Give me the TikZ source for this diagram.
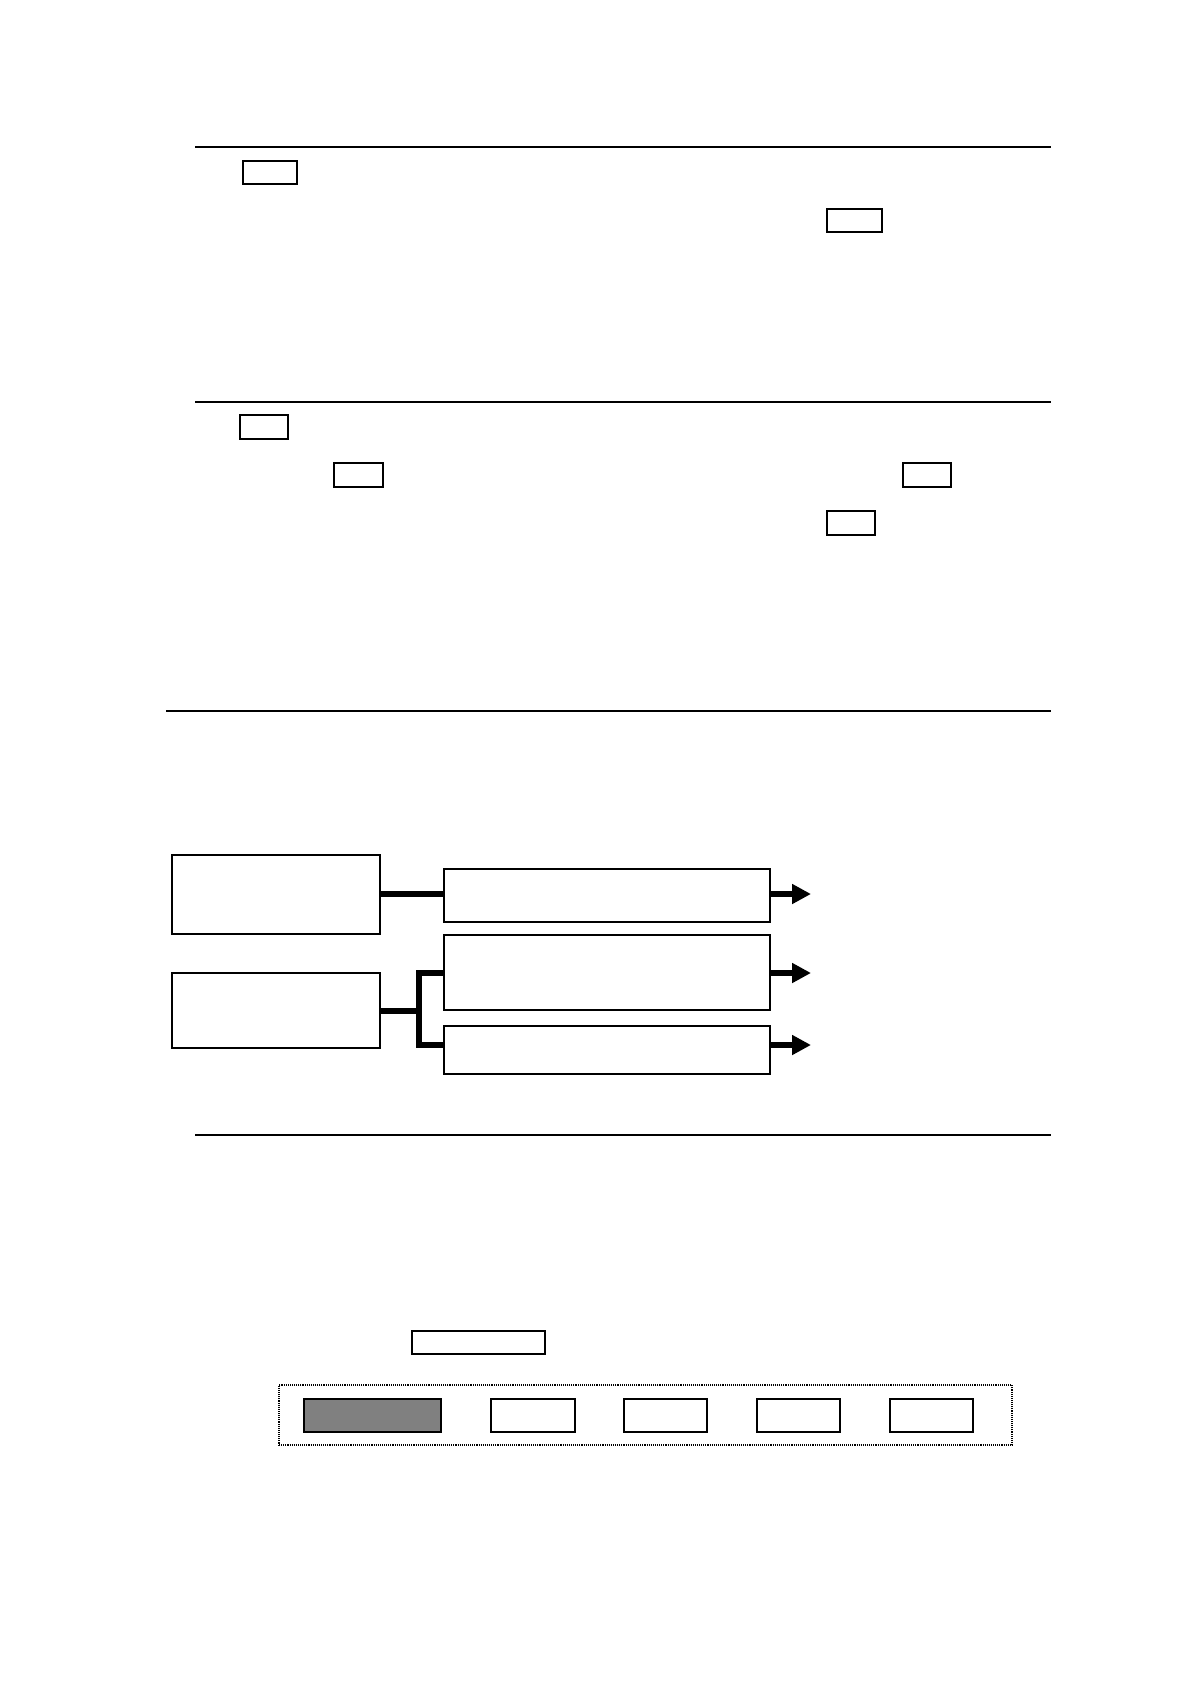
\documentclass[tikz,border=0pt]{standalone}
\usetikzlibrary{arrows.meta}
\begin{document}
\begin{tikzpicture}[x=1pt,y=-1pt,
  bx/.style={draw,line width=1.1pt,inner sep=0pt,outer sep=0pt,anchor=north west},
  flow/.style={draw,line width=1.6pt,inner sep=0pt,outer sep=0pt,anchor=north west},
  conn/.style={line width=6pt},
  arr/.style={line width=6pt,-{Triangle[length=19pt,width=19pt]}},
  rule/.style={line width=1.2pt},
  thickrule/.style={line width=2.8pt}]
\useasboundingbox[fill=white] (0,0) rectangle (1191,1684);
% rules
\coordinate (r1a) at (195,147); \coordinate (r1b) at (1051,147);
\coordinate (r2a) at (195,402); \coordinate (r2b) at (1051,402);
\coordinate (r3a) at (166,711); \coordinate (r3b) at (1051,711);
\coordinate (r4a) at (195,1135); \coordinate (r4b) at (1051,1135);
\draw[thickrule] (r1a) -- (r1b);
\draw[rule] (r2a) -- (r2b);
\draw[thickrule] (r3a) -- (r3b);
\draw[rule] (r4a) -- (r4b);
% small boxes
\node[bx,minimum width=54pt,minimum height=23pt] (sA) at (243,161) {};
\node[bx,minimum width=55pt,minimum height=23pt] (sB) at (827,209) {};
\node[bx,minimum width=48pt,minimum height=24pt] (sC) at (240,415) {};
\node[bx,minimum width=49pt,minimum height=24pt] (sD) at (334,463) {};
\node[bx,minimum width=48pt,minimum height=24pt] (sE) at (903,463) {};
\node[bx,minimum width=48pt,minimum height=24pt] (sF) at (827,511) {};
% flow diagram
\node[flow,minimum width=208pt,minimum height=79pt] (l1) at (172,855) {};
\node[flow,line width=1.1pt,minimum width=208pt,minimum height=75pt] (l2) at (172,973) {};
\node[flow,minimum width=326pt,minimum height=53pt] (q1) at (444,869) {};
\node[flow,minimum width=326pt,minimum height=75pt] (q2) at (444,935) {};
\node[flow,minimum width=326pt,minimum height=48pt] (q3) at (444,1026) {};
\coordinate (y1) at (0,894);
\coordinate (y2) at (0,973);
\coordinate (y3) at (0,1045);
\coordinate (e1) at (811,0 |- y1);
\coordinate (e2) at (811,0 |- y2);
\coordinate (e3) at (811,0 |- y3);
\coordinate (j) at (419,0 |- l2.east);
\draw[conn] (l1.east |- y1) -- (q1.west |- y1);
\draw[conn] (l2.east) -- (j);
\draw[conn,line join=miter] (q2.west |- y2) -| (j |- y3) -- (q3.west |- y3);
\draw[arr] (q1.east |- y1) -- (e1);
\draw[arr] (q2.east |- y2) -- (e2);
\draw[arr] (q3.east |- y3) -- (e3);
% bottom section
\node[bx,minimum width=133pt,minimum height=23pt] (g) at (412,1331) {};
\node[draw,densely dotted,line width=1.1pt,inner sep=0pt,outer sep=0pt,anchor=north west,minimum width=733pt,minimum height=60pt] (dot) at (279,1385) {};
\node[flow,fill=black!50,minimum width=137pt,minimum height=33pt] (k1) at (304,1399) {};
\node[flow,minimum width=84pt,minimum height=33pt] (k2) at (491,1399) {};
\node[flow,minimum width=83pt,minimum height=33pt] (k3) at (624,1399) {};
\node[flow,minimum width=83pt,minimum height=33pt] (k4) at (757,1399) {};
\node[flow,minimum width=83pt,minimum height=33pt] (k5) at (890,1399) {};
\end{tikzpicture}
\end{document}
